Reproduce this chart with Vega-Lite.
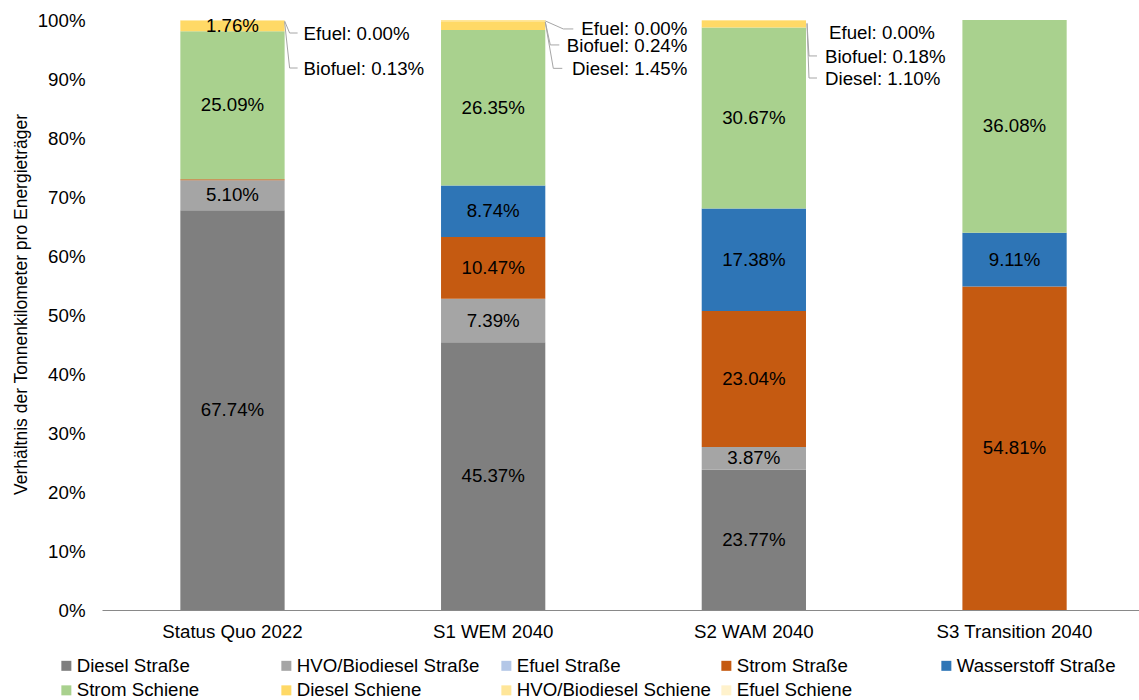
{
  "$schema": "https://vega.github.io/schema/vega-lite/v6.json",
  "width": 1037,
  "height": 590,
  "autosize": {"type": "none"},
  "padding": {"left": 102, "top": 20, "right": 0, "bottom": 90},
  "config": {"font": "Liberation Sans", "view": {"stroke": null}},
  "data": {"values": [
    {"cat": "Status Quo 2022", "series": "Diesel Straße", "v": 0.6774},
    {"cat": "Status Quo 2022", "series": "HVO/Biodiesel Straße", "v": 0.0510},
    {"cat": "Status Quo 2022", "series": "Efuel Straße", "v": 0},
    {"cat": "Status Quo 2022", "series": "Strom Straße", "v": 0.0018},
    {"cat": "Status Quo 2022", "series": "Wasserstoff Straße", "v": 0},
    {"cat": "Status Quo 2022", "series": "Strom Schiene", "v": 0.2509},
    {"cat": "Status Quo 2022", "series": "Diesel Schiene", "v": 0.0176},
    {"cat": "Status Quo 2022", "series": "HVO/Biodiesel Schiene", "v": 0.0013},
    {"cat": "Status Quo 2022", "series": "Efuel Schiene", "v": 0},
    {"cat": "S1 WEM 2040", "series": "Diesel Straße", "v": 0.4537},
    {"cat": "S1 WEM 2040", "series": "HVO/Biodiesel Straße", "v": 0.0739},
    {"cat": "S1 WEM 2040", "series": "Efuel Straße", "v": 0},
    {"cat": "S1 WEM 2040", "series": "Strom Straße", "v": 0.1047},
    {"cat": "S1 WEM 2040", "series": "Wasserstoff Straße", "v": 0.0874},
    {"cat": "S1 WEM 2040", "series": "Strom Schiene", "v": 0.2635},
    {"cat": "S1 WEM 2040", "series": "Diesel Schiene", "v": 0.0145},
    {"cat": "S1 WEM 2040", "series": "HVO/Biodiesel Schiene", "v": 0.0024},
    {"cat": "S1 WEM 2040", "series": "Efuel Schiene", "v": 0},
    {"cat": "S2 WAM 2040", "series": "Diesel Straße", "v": 0.2377},
    {"cat": "S2 WAM 2040", "series": "HVO/Biodiesel Straße", "v": 0.0387},
    {"cat": "S2 WAM 2040", "series": "Efuel Straße", "v": 0},
    {"cat": "S2 WAM 2040", "series": "Strom Straße", "v": 0.2304},
    {"cat": "S2 WAM 2040", "series": "Wasserstoff Straße", "v": 0.1738},
    {"cat": "S2 WAM 2040", "series": "Strom Schiene", "v": 0.3067},
    {"cat": "S2 WAM 2040", "series": "Diesel Schiene", "v": 0.0110},
    {"cat": "S2 WAM 2040", "series": "HVO/Biodiesel Schiene", "v": 0.0018},
    {"cat": "S2 WAM 2040", "series": "Efuel Schiene", "v": 0},
    {"cat": "S3 Transition 2040", "series": "Diesel Straße", "v": 0},
    {"cat": "S3 Transition 2040", "series": "HVO/Biodiesel Straße", "v": 0},
    {"cat": "S3 Transition 2040", "series": "Efuel Straße", "v": 0},
    {"cat": "S3 Transition 2040", "series": "Strom Straße", "v": 0.5481},
    {"cat": "S3 Transition 2040", "series": "Wasserstoff Straße", "v": 0.0911},
    {"cat": "S3 Transition 2040", "series": "Strom Schiene", "v": 0.3608},
    {"cat": "S3 Transition 2040", "series": "Diesel Schiene", "v": 0},
    {"cat": "S3 Transition 2040", "series": "HVO/Biodiesel Schiene", "v": 0},
    {"cat": "S3 Transition 2040", "series": "Efuel Schiene", "v": 0}
  ]},
  "transform": [
    {"calculate": "indexof(['Diesel Straße','HVO/Biodiesel Straße','Efuel Straße','Strom Straße','Wasserstoff Straße','Strom Schiene','Diesel Schiene','HVO/Biodiesel Schiene','Efuel Schiene'], datum.series)", "as": "k"},
    {"stack": "v", "groupby": ["cat"], "sort": [{"field": "k", "order": "ascending"}], "as": ["y0", "y1"]},
    {"calculate": "(datum.y0 + datum.y1) / 2", "as": "mid"},
    {"calculate": "(datum.series == 'Efuel Schiene' ? 'Efuel' : datum.series == 'HVO/Biodiesel Schiene' ? 'Biofuel' : 'Diesel') + ': ' + format(datum.v, '.2%')", "as": "lab"}
  ],
  "layer": [
    {
      "mark": {"type": "bar"},
      "encoding": {
        "x": {"field": "cat", "type": "nominal", "sort": ["Status Quo 2022", "S1 WEM 2040", "S2 WAM 2040", "S3 Transition 2040"],
          "scale": {"paddingInner": 0.6, "paddingOuter": 0.289, "align": 0.52},
          "axis": {"title": null, "labelAngle": 0, "labelFontSize": 18.7, "labelColor": "#000000", "labelPadding": 12, "ticks": false, "domainColor": "#898989", "domainWidth": 1}},
        "y": {"field": "y0", "type": "quantitative", "scale": {"domain": [0, 1], "nice": false, "zero": true},
          "axis": {"title": "Verhältnis der Tonnenkilometer pro Energieträger", "values": [0, 0.1, 0.2, 0.3, 0.4, 0.5, 0.6, 0.7, 0.8, 0.9, 1], "format": ".0%",
            "labelFontSize": 18.7, "labelColor": "#000000", "labelPadding": 17, "ticks": false, "domain": false, "grid": false,
            "titleFontSize": 17.5, "titleFontWeight": "normal", "titleColor": "#000000", "titleX": -81, "titleY": 284, "titleAngle": 270, "titleAlign": "center", "titleBaseline": "middle"}},
        "y2": {"field": "y1"},
        "color": {"field": "series", "type": "nominal",
          "scale": {"domain": ["Diesel Straße", "HVO/Biodiesel Straße", "Efuel Straße", "Strom Straße", "Wasserstoff Straße", "Strom Schiene", "Diesel Schiene", "HVO/Biodiesel Schiene", "Efuel Schiene"],
            "range": ["#7f7f7f", "#a5a5a5", "#b4c7e7", "#c55a11", "#2e75b6", "#a9d18e", "#ffd966", "#ffe699", "#fff2cc"]},
          "legend": {"title": null, "orient": "none", "legendX": -45, "legendY": 636, "direction": "horizontal", "columns": 5, "gridAlign": "all",
            "columnPadding": 6, "rowPadding": 5, "symbolType": "square", "symbolSize": 100, "symbolStrokeWidth": 0, "labelFontSize": 18.7, "labelColor": "#000000", "labelOffset": 1, "labelLimit": 300, "padding": 0}}
      }
    },
    {
      "transform": [{"filter": "datum.v >= 0.015"}],
      "mark": {"type": "text", "fontSize": 18.7, "color": "#000000", "baseline": "middle", "align": "center"},
      "encoding": {
        "x": {"field": "cat", "type": "nominal", "sort": ["Status Quo 2022", "S1 WEM 2040", "S2 WAM 2040", "S3 Transition 2040"]},
        "y": {"field": "mid", "type": "quantitative"},
        "text": {"field": "v", "type": "quantitative", "format": ".2%"}
      }
    },
    {
      "transform": [{"filter": "datum.cat == 'Status Quo 2022' && datum.series == 'Efuel Schiene'"}],
      "mark": {"type": "text", "fontSize": 18.7, "color": "#000000", "baseline": "middle", "align": "left", "dx": 19, "dy": 14},
      "encoding": {"x": {"field": "cat", "type": "nominal", "bandPosition": 1, "sort": ["Status Quo 2022", "S1 WEM 2040", "S2 WAM 2040", "S3 Transition 2040"]}, "y": {"field": "y1", "type": "quantitative"}, "text": {"field": "lab"}}
    },
    {
      "transform": [{"filter": "datum.cat == 'Status Quo 2022' && datum.series == 'HVO/Biodiesel Schiene'"}],
      "mark": {"type": "text", "fontSize": 18.7, "color": "#000000", "baseline": "middle", "align": "left", "dx": 19, "dy": 49},
      "encoding": {"x": {"field": "cat", "type": "nominal", "bandPosition": 1, "sort": ["Status Quo 2022", "S1 WEM 2040", "S2 WAM 2040", "S3 Transition 2040"]}, "y": {"field": "y1", "type": "quantitative"}, "text": {"field": "lab"}}
    },
    {
      "transform": [{"filter": "datum.cat == 'S1 WEM 2040' && datum.series == 'Efuel Schiene'"}],
      "mark": {"type": "text", "fontSize": 18.7, "color": "#000000", "baseline": "middle", "align": "right", "dx": 142, "dy": 9},
      "encoding": {"x": {"field": "cat", "type": "nominal", "bandPosition": 1, "sort": ["Status Quo 2022", "S1 WEM 2040", "S2 WAM 2040", "S3 Transition 2040"]}, "y": {"field": "y1", "type": "quantitative"}, "text": {"field": "lab"}}
    },
    {
      "transform": [{"filter": "datum.cat == 'S1 WEM 2040' && datum.series == 'HVO/Biodiesel Schiene'"}],
      "mark": {"type": "text", "fontSize": 18.7, "color": "#000000", "baseline": "middle", "align": "right", "dx": 142, "dy": 26},
      "encoding": {"x": {"field": "cat", "type": "nominal", "bandPosition": 1, "sort": ["Status Quo 2022", "S1 WEM 2040", "S2 WAM 2040", "S3 Transition 2040"]}, "y": {"field": "y1", "type": "quantitative"}, "text": {"field": "lab"}}
    },
    {
      "transform": [{"filter": "datum.cat == 'S1 WEM 2040' && datum.series == 'Diesel Schiene'"}],
      "mark": {"type": "text", "fontSize": 18.7, "color": "#000000", "baseline": "middle", "align": "right", "dx": 142, "dy": 48},
      "encoding": {"x": {"field": "cat", "type": "nominal", "bandPosition": 1, "sort": ["Status Quo 2022", "S1 WEM 2040", "S2 WAM 2040", "S3 Transition 2040"]}, "y": {"field": "y1", "type": "quantitative"}, "text": {"field": "lab"}}
    },
    {
      "transform": [{"filter": "datum.cat == 'S2 WAM 2040' && datum.series == 'Efuel Schiene'"}],
      "mark": {"type": "text", "fontSize": 18.7, "color": "#000000", "baseline": "middle", "align": "left", "dx": 23, "dy": 13},
      "encoding": {"x": {"field": "cat", "type": "nominal", "bandPosition": 1, "sort": ["Status Quo 2022", "S1 WEM 2040", "S2 WAM 2040", "S3 Transition 2040"]}, "y": {"field": "y1", "type": "quantitative"}, "text": {"field": "lab"}}
    },
    {
      "transform": [{"filter": "datum.cat == 'S2 WAM 2040' && datum.series == 'HVO/Biodiesel Schiene'"}],
      "mark": {"type": "text", "fontSize": 18.7, "color": "#000000", "baseline": "middle", "align": "left", "dx": 19, "dy": 37},
      "encoding": {"x": {"field": "cat", "type": "nominal", "bandPosition": 1, "sort": ["Status Quo 2022", "S1 WEM 2040", "S2 WAM 2040", "S3 Transition 2040"]}, "y": {"field": "y1", "type": "quantitative"}, "text": {"field": "lab"}}
    },
    {
      "transform": [{"filter": "datum.cat == 'S2 WAM 2040' && datum.series == 'Diesel Schiene'"}],
      "mark": {"type": "text", "fontSize": 18.7, "color": "#000000", "baseline": "middle", "align": "left", "dx": 19, "dy": 58},
      "encoding": {"x": {"field": "cat", "type": "nominal", "bandPosition": 1, "sort": ["Status Quo 2022", "S1 WEM 2040", "S2 WAM 2040", "S3 Transition 2040"]}, "y": {"field": "y1", "type": "quantitative"}, "text": {"field": "lab"}}
    },
    {
      "transform": [{"filter": "datum.cat == 'Status Quo 2022' && datum.series == 'Efuel Schiene'"}],
      "mark": {"type": "rule", "color": "#a6a6a6", "strokeWidth": 1, "xOffset": 0, "x2Offset": 5, "yOffset": 1, "y2Offset": 13},
      "encoding": {"x": {"field": "cat", "type": "nominal", "bandPosition": 1, "sort": ["Status Quo 2022", "S1 WEM 2040", "S2 WAM 2040", "S3 Transition 2040"]}, "x2": {"field": "cat", "bandPosition": 1}, "y": {"field": "y1", "type": "quantitative"}, "y2": {"field": "y1"}}
    },
    {
      "transform": [{"filter": "datum.cat == 'Status Quo 2022' && datum.series == 'Efuel Schiene'"}],
      "mark": {"type": "rule", "color": "#a6a6a6", "strokeWidth": 1, "xOffset": 5, "x2Offset": 13, "yOffset": 13, "y2Offset": 13},
      "encoding": {"x": {"field": "cat", "type": "nominal", "bandPosition": 1, "sort": ["Status Quo 2022", "S1 WEM 2040", "S2 WAM 2040", "S3 Transition 2040"]}, "x2": {"field": "cat", "bandPosition": 1}, "y": {"field": "y1", "type": "quantitative"}, "y2": {"field": "y1"}}
    },
    {
      "transform": [{"filter": "datum.cat == 'Status Quo 2022' && datum.series == 'HVO/Biodiesel Schiene'"}],
      "mark": {"type": "rule", "color": "#a6a6a6", "strokeWidth": 1, "xOffset": 0, "x2Offset": 5, "yOffset": 2, "y2Offset": 48},
      "encoding": {"x": {"field": "cat", "type": "nominal", "bandPosition": 1, "sort": ["Status Quo 2022", "S1 WEM 2040", "S2 WAM 2040", "S3 Transition 2040"]}, "x2": {"field": "cat", "bandPosition": 1}, "y": {"field": "y1", "type": "quantitative"}, "y2": {"field": "y1"}}
    },
    {
      "transform": [{"filter": "datum.cat == 'Status Quo 2022' && datum.series == 'HVO/Biodiesel Schiene'"}],
      "mark": {"type": "rule", "color": "#a6a6a6", "strokeWidth": 1, "xOffset": 5, "x2Offset": 13, "yOffset": 48, "y2Offset": 48},
      "encoding": {"x": {"field": "cat", "type": "nominal", "bandPosition": 1, "sort": ["Status Quo 2022", "S1 WEM 2040", "S2 WAM 2040", "S3 Transition 2040"]}, "x2": {"field": "cat", "bandPosition": 1}, "y": {"field": "y1", "type": "quantitative"}, "y2": {"field": "y1"}}
    },
    {
      "transform": [{"filter": "datum.cat == 'S1 WEM 2040' && datum.series == 'Efuel Schiene'"}],
      "mark": {"type": "rule", "color": "#a6a6a6", "strokeWidth": 1, "xOffset": 0, "x2Offset": 18, "yOffset": 1, "y2Offset": 9},
      "encoding": {"x": {"field": "cat", "type": "nominal", "bandPosition": 1, "sort": ["Status Quo 2022", "S1 WEM 2040", "S2 WAM 2040", "S3 Transition 2040"]}, "x2": {"field": "cat", "bandPosition": 1}, "y": {"field": "y1", "type": "quantitative"}, "y2": {"field": "y1"}}
    },
    {
      "transform": [{"filter": "datum.cat == 'S1 WEM 2040' && datum.series == 'Efuel Schiene'"}],
      "mark": {"type": "rule", "color": "#a6a6a6", "strokeWidth": 1, "xOffset": 18, "x2Offset": 28, "yOffset": 9, "y2Offset": 9},
      "encoding": {"x": {"field": "cat", "type": "nominal", "bandPosition": 1, "sort": ["Status Quo 2022", "S1 WEM 2040", "S2 WAM 2040", "S3 Transition 2040"]}, "x2": {"field": "cat", "bandPosition": 1}, "y": {"field": "y1", "type": "quantitative"}, "y2": {"field": "y1"}}
    },
    {
      "transform": [{"filter": "datum.cat == 'S1 WEM 2040' && datum.series == 'HVO/Biodiesel Schiene'"}],
      "mark": {"type": "rule", "color": "#a6a6a6", "strokeWidth": 1, "xOffset": 0, "x2Offset": 5, "yOffset": 2, "y2Offset": 25},
      "encoding": {"x": {"field": "cat", "type": "nominal", "bandPosition": 1, "sort": ["Status Quo 2022", "S1 WEM 2040", "S2 WAM 2040", "S3 Transition 2040"]}, "x2": {"field": "cat", "bandPosition": 1}, "y": {"field": "y1", "type": "quantitative"}, "y2": {"field": "y1"}}
    },
    {
      "transform": [{"filter": "datum.cat == 'S1 WEM 2040' && datum.series == 'HVO/Biodiesel Schiene'"}],
      "mark": {"type": "rule", "color": "#a6a6a6", "strokeWidth": 1, "xOffset": 5, "x2Offset": 14, "yOffset": 25, "y2Offset": 25},
      "encoding": {"x": {"field": "cat", "type": "nominal", "bandPosition": 1, "sort": ["Status Quo 2022", "S1 WEM 2040", "S2 WAM 2040", "S3 Transition 2040"]}, "x2": {"field": "cat", "bandPosition": 1}, "y": {"field": "y1", "type": "quantitative"}, "y2": {"field": "y1"}}
    },
    {
      "transform": [{"filter": "datum.cat == 'S1 WEM 2040' && datum.series == 'Diesel Schiene'"}],
      "mark": {"type": "rule", "color": "#a6a6a6", "strokeWidth": 1, "xOffset": 0, "x2Offset": 8, "yOffset": 1, "y2Offset": 47},
      "encoding": {"x": {"field": "cat", "type": "nominal", "bandPosition": 1, "sort": ["Status Quo 2022", "S1 WEM 2040", "S2 WAM 2040", "S3 Transition 2040"]}, "x2": {"field": "cat", "bandPosition": 1}, "y": {"field": "y1", "type": "quantitative"}, "y2": {"field": "y1"}}
    },
    {
      "transform": [{"filter": "datum.cat == 'S1 WEM 2040' && datum.series == 'Diesel Schiene'"}],
      "mark": {"type": "rule", "color": "#a6a6a6", "strokeWidth": 1, "xOffset": 8, "x2Offset": 17, "yOffset": 47, "y2Offset": 47},
      "encoding": {"x": {"field": "cat", "type": "nominal", "bandPosition": 1, "sort": ["Status Quo 2022", "S1 WEM 2040", "S2 WAM 2040", "S3 Transition 2040"]}, "x2": {"field": "cat", "bandPosition": 1}, "y": {"field": "y1", "type": "quantitative"}, "y2": {"field": "y1"}}
    },
    {
      "transform": [{"filter": "datum.cat == 'S2 WAM 2040' && datum.series == 'HVO/Biodiesel Schiene'"}],
      "mark": {"type": "rule", "color": "#a6a6a6", "strokeWidth": 1, "xOffset": 1, "x2Offset": 3, "yOffset": 3, "y2Offset": 36},
      "encoding": {"x": {"field": "cat", "type": "nominal", "bandPosition": 1, "sort": ["Status Quo 2022", "S1 WEM 2040", "S2 WAM 2040", "S3 Transition 2040"]}, "x2": {"field": "cat", "bandPosition": 1}, "y": {"field": "y1", "type": "quantitative"}, "y2": {"field": "y1"}}
    },
    {
      "transform": [{"filter": "datum.cat == 'S2 WAM 2040' && datum.series == 'HVO/Biodiesel Schiene'"}],
      "mark": {"type": "rule", "color": "#a6a6a6", "strokeWidth": 1, "xOffset": 3, "x2Offset": 11, "yOffset": 36, "y2Offset": 36},
      "encoding": {"x": {"field": "cat", "type": "nominal", "bandPosition": 1, "sort": ["Status Quo 2022", "S1 WEM 2040", "S2 WAM 2040", "S3 Transition 2040"]}, "x2": {"field": "cat", "bandPosition": 1}, "y": {"field": "y1", "type": "quantitative"}, "y2": {"field": "y1"}}
    },
    {
      "transform": [{"filter": "datum.cat == 'S2 WAM 2040' && datum.series == 'Diesel Schiene'"}],
      "mark": {"type": "rule", "color": "#a6a6a6", "strokeWidth": 1, "xOffset": 1, "x2Offset": 3, "yOffset": 3, "y2Offset": 57},
      "encoding": {"x": {"field": "cat", "type": "nominal", "bandPosition": 1, "sort": ["Status Quo 2022", "S1 WEM 2040", "S2 WAM 2040", "S3 Transition 2040"]}, "x2": {"field": "cat", "bandPosition": 1}, "y": {"field": "y1", "type": "quantitative"}, "y2": {"field": "y1"}}
    },
    {
      "transform": [{"filter": "datum.cat == 'S2 WAM 2040' && datum.series == 'Diesel Schiene'"}],
      "mark": {"type": "rule", "color": "#a6a6a6", "strokeWidth": 1, "xOffset": 3, "x2Offset": 11, "yOffset": 57, "y2Offset": 57},
      "encoding": {"x": {"field": "cat", "type": "nominal", "bandPosition": 1, "sort": ["Status Quo 2022", "S1 WEM 2040", "S2 WAM 2040", "S3 Transition 2040"]}, "x2": {"field": "cat", "bandPosition": 1}, "y": {"field": "y1", "type": "quantitative"}, "y2": {"field": "y1"}}
    }
  ]
}
